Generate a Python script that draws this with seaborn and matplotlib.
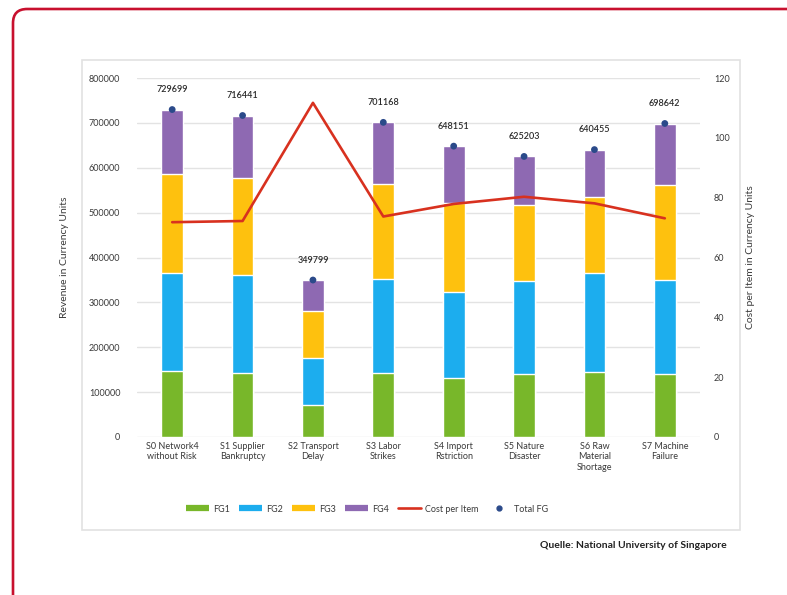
import numpy as np
import pandas as pd
import matplotlib
matplotlib.use("Agg")
import matplotlib.pyplot as plt
from matplotlib.patches import FancyBboxPatch, Rectangle
from matplotlib.lines import Line2D
import seaborn as sns

categories = ["S0 Network4\nwithout Risk", "S1 Supplier\nBankruptcy", "S2 Transport\nDelay",
              "S3 Labor\nStrikes", "S4 Import\nRstriction", "S5 Nature\nDisaster",
              "S6 Raw\nMaterial\nShortage", "S7 Machine\nFailure"]
fg1 = [146000, 143600, 71400, 142000, 131000, 140000, 145000, 140000]
fg2 = [219000, 217100, 104100, 211000, 193000, 208000, 219500, 209500]
fg3 = [221000, 216300, 105500, 210700, 197000, 169500, 169500, 212000]
fg4 = [143700, 139400, 68800, 137500, 127200, 107700, 106500, 137100]
total_fg = [729699, 716441, 349799, 701168, 648151, 625203, 640455, 698642]
cost_per_item = [71.8, 72.2, 111.7, 73.7, 77.9, 80.3, 78.1, 73.1]
series_names = ["FG1", "FG2", "FG3", "FG4"]
colors = ["#78B72A", "#1CADEE", "#FEC10E", "#8E69B2"]
line_color = "#D8311F"
dot_color = "#2B4A8A"

sns.set_theme(style="white")
plt.rcParams["font.family"] = ["Lato", "DejaVu Sans"]

fig = plt.figure(figsize=(7.87, 5.95), dpi=100)
fig.patch.set_facecolor("white")

# outer red frame
frame = FancyBboxPatch((13 / 787, 1 - 9 / 595 - 700 / 595), 900 / 787, 700 / 595,
                       boxstyle="round,pad=0,rounding_size=0.018",
                       transform=fig.transFigure, fill=False, edgecolor="#C8102E",
                       linewidth=1.9, clip_on=False, mutation_aspect=787 / 595, zorder=-10)
fig.patches.append(frame)
# inner gray panel
panel = Rectangle((82 / 787, 1 - 530 / 595), 658 / 787, 470 / 595, transform=fig.transFigure,
                  fill=False, edgecolor="#E2E2E2", linewidth=1.2, zorder=-10)
fig.patches.append(panel)

ax = fig.add_axes([137 / 787, 1 - 437 / 595, 563 / 787, 359 / 595])
ax.set_facecolor("none")

layers = [fg1, fg2, fg3, fg4]
cum = np.cumsum(np.array(layers, dtype=float), axis=0)
x_idx = np.arange(len(categories))
for i in range(3, -1, -1):
    df = pd.DataFrame({"cat": categories, "val": cum[i]})
    sns.barplot(data=df, x="cat", y="val", color=colors[i], saturation=1, width=0.31,
                ax=ax, zorder=2)

sns.scatterplot(x=x_idx, y=total_fg, color=dot_color, s=24, ax=ax, zorder=4, edgecolor="none")
for xi, t in zip(x_idx, total_fg):
    ax.annotate(f"{t}", (xi, t), xytext=(0, 11), textcoords="offset points",
                ha="center", va="bottom", fontsize=6.5, color="#2a2a2a", fontweight="semibold")

ax.set_ylim(0, 800000)
ax.set_xlim(-0.5, len(categories) - 0.5)
ax.set_yticks(np.arange(0, 800001, 100000))
ax.set_yticklabels([f"{v}" for v in range(0, 800001, 100000)])
ax.grid(axis="y", color="#E3E3E3", linewidth=1.0, zorder=0)
ax.set_axisbelow(True)
for s in ax.spines.values():
    s.set_visible(False)
ax.tick_params(axis="both", length=0, labelsize=6.5, colors="#3a3a3a")
ax.tick_params(axis="y", pad=12)
ax.set_xlabel("")
ax.set_ylabel("Revenue in Currency Units", fontsize=7.5, color="#3a3a3a", labelpad=14)

ax2 = ax.twinx()
sns.lineplot(x=x_idx, y=cost_per_item, color=line_color, linewidth=1.9, ax=ax2, zorder=3)
ax2.set_ylim(0, 120)
ax2.set_yticks(np.arange(0, 121, 20))
for s in ax2.spines.values():
    s.set_visible(False)
ax2.tick_params(axis="y", length=0, labelsize=6.5, colors="#3a3a3a", pad=10)
ax2.set_ylabel("Cost per Item in Currency Units", fontsize=7.5, color="#3a3a3a", labelpad=12)
ax2.grid(False)

handles = [Line2D([], [], color=c, linewidth=4.5, solid_capstyle="butt") for c in colors]
handles.append(Line2D([], [], color=line_color, linewidth=1.9))
handles.append(Line2D([], [], color=dot_color, marker="o", linestyle="none", markersize=3.5))
labels = series_names + ["Cost per Item", "Total FG"]
fig.legend(handles, labels, loc="center", bbox_to_anchor=(367 / 787, 1 - 509 / 595),
           ncol=6, frameon=False, fontsize=6.5, handlelength=2.6, columnspacing=1.0,
           handletextpad=0.4, labelcolor="#3a3a3a")

fig.text(727 / 787, 1 - 545 / 595, "Quelle: National University of Singapore", ha="right",
         va="center", fontsize=7.5, fontweight="bold", color="#222222")

fig.savefig("out.png", dpi=100)
